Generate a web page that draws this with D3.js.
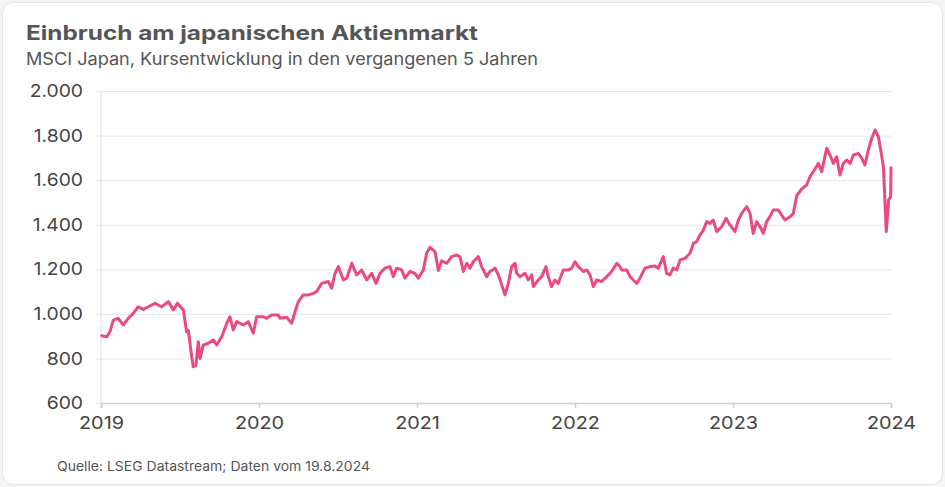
<!DOCTYPE html>
<html>
<head>
<meta charset="utf-8">
<script src="https://cdn.jsdelivr.net/npm/d3@7"></script>
<style>
  html, body { margin: 0; padding: 0; background: #f4f4f4; }
  svg { display: block; font-family: Inter, "Noto Sans", sans-serif; }
</style>
</head>
<body>
<svg id="chart" width="945" height="487"></svg>
<script>
// Position on the axis (decimal year) and index level
const times = [
  2019.004, 2019.036, 2019.057, 2019.078, 2019.109, 2019.141, 2019.173, 2019.204, 2019.236, 2019.268,
  2019.299, 2019.342, 2019.384, 2019.426, 2019.458, 2019.483, 2019.521, 2019.542, 2019.553, 2019.574,
  2019.584, 2019.601, 2019.616, 2019.627, 2019.647, 2019.679, 2019.711, 2019.732, 2019.764, 2019.796,
  2019.816, 2019.837, 2019.859, 2019.901, 2019.932, 2019.964, 2019.985, 2020.027, 2020.048, 2020.080,
  2020.122, 2020.133, 2020.175, 2020.207, 2020.228, 2020.249, 2020.280, 2020.312, 2020.344, 2020.365,
  2020.397, 2020.439, 2020.460, 2020.481, 2020.502, 2020.534, 2020.555, 2020.587, 2020.618, 2020.650,
  2020.682, 2020.713, 2020.741, 2020.766, 2020.797, 2020.829, 2020.850, 2020.872, 2020.903, 2020.924,
  2020.956, 2020.987, 2021.008, 2021.040, 2021.061, 2021.082, 2021.114, 2021.135, 2021.156, 2021.188,
  2021.219, 2021.251, 2021.272, 2021.293, 2021.315, 2021.335, 2021.356, 2021.388, 2021.409, 2021.441,
  2021.462, 2021.494, 2021.515, 2021.536, 2021.557, 2021.578, 2021.599, 2021.620, 2021.631, 2021.652,
  2021.684, 2021.704, 2021.726, 2021.736, 2021.768, 2021.789, 2021.816, 2021.831, 2021.852, 2021.873,
  2021.894, 2021.926, 2021.958, 2021.979, 2022.000, 2022.021, 2022.053, 2022.075, 2022.095, 2022.116,
  2022.137, 2022.169, 2022.201, 2022.232, 2022.264, 2022.285, 2022.296, 2022.327, 2022.348, 2022.369,
  2022.391, 2022.411, 2022.443, 2022.475, 2022.506, 2022.527, 2022.559, 2022.580, 2022.601, 2022.622,
  2022.644, 2022.665, 2022.696, 2022.728, 2022.749, 2022.770, 2022.791, 2022.812, 2022.834, 2022.854,
  2022.875, 2022.897, 2022.928, 2022.956, 2022.981, 2023.013, 2023.034, 2023.055, 2023.087, 2023.108,
  2023.128, 2023.150, 2023.171, 2023.192, 2023.213, 2023.234, 2023.255, 2023.287, 2023.308, 2023.329,
  2023.361, 2023.382, 2023.403, 2023.434, 2023.466, 2023.487, 2023.508, 2023.540, 2023.561, 2023.593,
  2023.614, 2023.635, 2023.656, 2023.677, 2023.698, 2023.720, 2023.741, 2023.762, 2023.793, 2023.815,
  2023.835, 2023.856, 2023.878, 2023.899, 2023.920, 2023.935, 2023.952, 2023.970, 2023.985, 2023.998,
  2024.000
];
const values = [
  902, 897, 920, 972, 980, 950, 980, 1002, 1032, 1020,
  1032, 1047, 1032, 1055, 1018, 1047, 1018, 920, 925, 808,
  763, 770, 875, 800, 860, 868, 883, 860, 897, 958,
  987, 928, 965, 950, 965, 913, 987, 987, 980, 995,
  995, 980, 985, 958, 1010, 1055, 1085, 1085, 1092, 1100,
  1137, 1145, 1115, 1182, 1212, 1152, 1160, 1227, 1175, 1197,
  1152, 1182, 1137, 1182, 1205, 1212, 1167, 1205, 1197, 1160,
  1190, 1182, 1160, 1197, 1272, 1298, 1279, 1195, 1238, 1227,
  1257, 1264, 1257, 1190, 1227, 1205, 1234, 1257, 1212, 1167,
  1190, 1205, 1175, 1130, 1085, 1137, 1212, 1227, 1182, 1167,
  1182, 1152, 1175, 1122, 1152, 1167, 1212, 1167, 1122, 1152,
  1137, 1197, 1197, 1205, 1234, 1212, 1190, 1197, 1175, 1122,
  1152, 1145, 1167, 1190, 1227, 1212, 1197, 1197, 1167, 1152,
  1137, 1160, 1205, 1212, 1215, 1205, 1257, 1182, 1175, 1205,
  1197, 1242, 1249, 1272, 1316, 1324, 1354, 1376, 1414, 1406,
  1421, 1369, 1391, 1429, 1399, 1369, 1421, 1451, 1481, 1451,
  1361, 1414, 1391, 1361, 1414, 1436, 1466, 1466, 1443, 1421,
  1436, 1451, 1530, 1560, 1578, 1615, 1638, 1675, 1638, 1743,
  1713, 1675, 1705, 1623, 1675, 1690, 1675, 1713, 1720, 1698,
  1668, 1735, 1788, 1825, 1795, 1735, 1660, 1369, 1511, 1526,
  1656
];
const xTicks = [2019, 2020, 2021, 2022, 2023, 2024];
const yTicks = [600, 800, 1000, 1200, 1400, 1600, 1800, 2000];
const title = "Einbruch am japanischen Aktienmarkt";
const subtitle = "MSCI Japan, Kursentwicklung in den vergangenen 5 Jahren";
const source = "Quelle: LSEG Datastream; Daten vom 19.8.2024";

const W = 945, H = 487;
const margin = { top: 91, right: 54, bottom: 84, left: 101 };
const FONT = "Inter, 'Noto Sans', sans-serif";
const svg = d3.select("#chart");

// stretch a text element horizontally by a ratio (reference type runs wide)
function widen(sel, ratio) {
  sel.each(function () {
    const len = this.getComputedTextLength();
    d3.select(this).attr("textLength", len * ratio).attr("lengthAdjust", "spacingAndGlyphs");
  });
}
function fitTo(sel, width) {
  sel.attr("textLength", width).attr("lengthAdjust", "spacingAndGlyphs");
}

svg.append("rect")
  .attr("x", 2.5).attr("y", 2.5)
  .attr("width", W - 5).attr("height", H - 5)
  .attr("rx", 11).attr("ry", 11)
  .attr("fill", "#fff").attr("stroke", "#e4e4e4").attr("stroke-width", 1);

svg.append("text").attr("x", 26).attr("y", 39.5)
  .attr("font-size", 20).attr("font-weight", 700).attr("fill", "#555")
  .text(title).call(fitTo, 452);
svg.append("text").attr("x", 26).attr("y", 65)
  .attr("font-size", 17).attr("fill", "#555")
  .text(subtitle).call(fitTo, 512);
svg.append("text").attr("x", 57).attr("y", 471)
  .attr("font-size", 13).attr("fill", "#555")
  .text(source).call(fitTo, 313);

const x = d3.scaleLinear().domain([2019, 2024]).range([margin.left, W - margin.right]);
const y = d3.scaleLinear().domain([600, 2000]).range([H - margin.bottom, margin.top]);

// grid + y axis
const gy = svg.append("g").attr("transform", `translate(${margin.left},0)`)
  .call(d3.axisLeft(y).tickValues(yTicks)
    .tickSize(-(W - margin.left - margin.right))
    .tickPadding(18)
    .tickFormat(d => d3.format(",")(d).replace(/,/g, ".")));
gy.select(".domain").remove();
gy.selectAll(".tick line").attr("stroke", "#e6e6e6").attr("x1", -5);
gy.selectAll(".tick text").attr("font-size", 17.4).attr("fill", "#444")
  .attr("font-family", FONT).call(widen, 1.11);

svg.append("line")
  .attr("x1", margin.left).attr("x2", margin.left)
  .attr("y1", margin.top).attr("y2", H - margin.bottom)
  .attr("stroke", "#e0e0e0");

// x axis
const gx = svg.append("g").attr("transform", `translate(0,${H - margin.bottom})`)
  .call(d3.axisBottom(x).tickValues(xTicks).tickSize(5).tickPadding(9).tickFormat(d3.format("d")));
gx.select(".domain").attr("stroke", "#d0d0d0").attr("stroke-width", 1.5);
gx.selectAll(".tick line").attr("stroke", "#d0d0d0").attr("stroke-width", 1.5);
gx.selectAll(".tick text").attr("font-size", 17.4).attr("fill", "#444")
  .attr("font-family", FONT).call(widen, 1.14);

// line
const data = times.map((t, i) => ({ t, v: values[i] }));
svg.append("path").datum(data)
  .attr("fill", "none")
  .attr("stroke", "#ec4a7c")
  .attr("stroke-width", 3)
  .attr("stroke-linejoin", "round")
  .attr("stroke-linecap", "round")
  .attr("d", d3.line().x(d => x(d.t)).y(d => y(d.v)));
</script>
</body>
</html>
